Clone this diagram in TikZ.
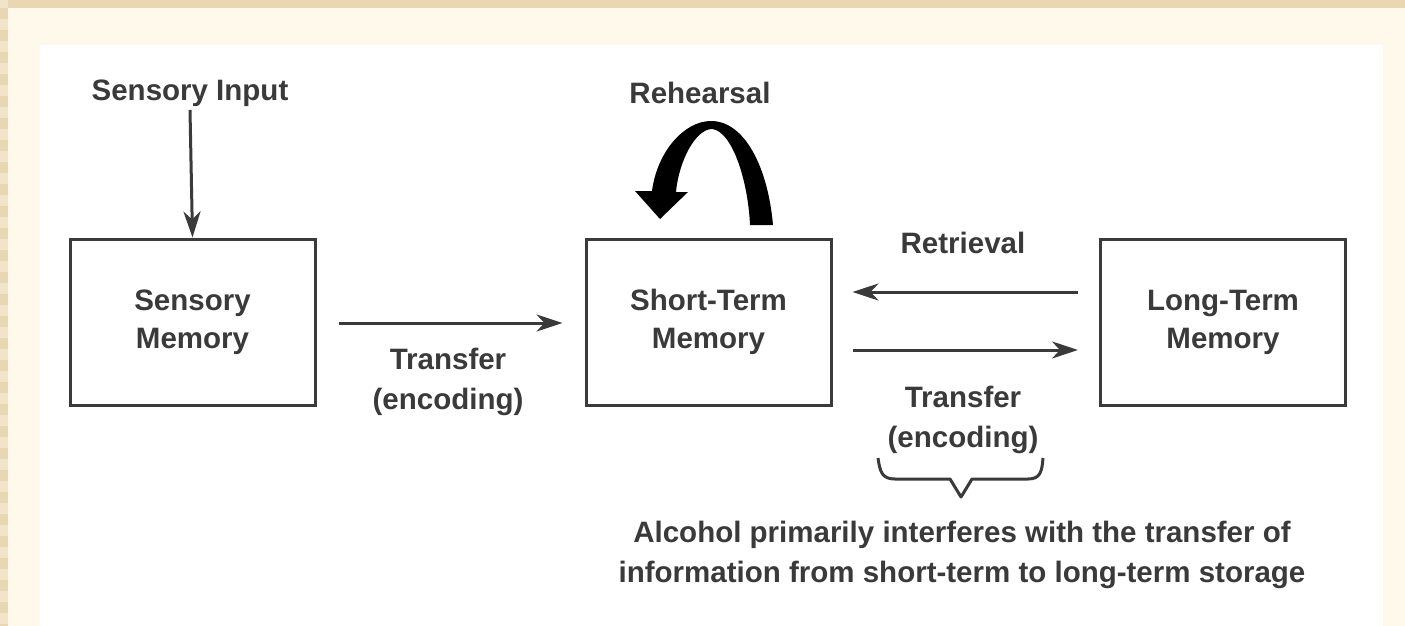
\documentclass[tikz,border=0pt]{standalone}
\usepackage{fontspec}
\setmainfont{Liberation Sans}
\usetikzlibrary{arrows.meta}
\definecolor{ink}{HTML}{3A3A3A}
\definecolor{cream}{HTML}{FFF9EC}
\definecolor{beige}{HTML}{E9D6B2}
\definecolor{beigeL}{HTML}{F2E4C8}
\tikzset{
  memorybox/.style={draw=ink, line width=3pt, minimum width=245pt, minimum height=166pt, align=center, text=ink, font=\fontsize{29.5}{38}\selectfont\bfseries},
  lbl/.style={align=center, text=ink, font=\fontsize{29.5}{40}\selectfont\bfseries, inner sep=0pt},
  conn/.style={draw=ink, line width=3pt, -{Stealth[length=26pt,width=17pt,inset=8pt]}}
}
\begin{document}
\begin{tikzpicture}[x=1pt,y=-1pt]
\useasboundingbox (0,0) rectangle (1405,626);
% background
\fill[cream] (0,0) rectangle (1405,626);
\fill[beige] (0,0) rectangle (1405,8);
\fill[beigeL] (0,0) rectangle (8,626);
\foreach \k in {0,...,28} {\fill[beige] (0,{8+\k*22}) rectangle (8,{8+\k*22+11});}
\fill[white] (40,45) rectangle (1383,626);
% boxes
\node[memorybox] (sm) at (192.5,322) {Sensory\\Memory};
\node[memorybox] (stm) at (708.5,322) {Short-Term\\Memory};
\node[memorybox] (ltm) at (1223,322) {Long-Term\\Memory};
% labels
\node[lbl] (si) at (190,93) {Sensory Input};
\node[lbl] (reh) at (700,93) {Rehearsal};
\node[lbl] (ret) at (963,243) {Retrieval};
\node[lbl] (t1) at (448,382) {Transfer\\(encoding)};
\node[lbl] (t2) at (963,420) {Transfer\\(encoding)};
\node[lbl] (alc) at (962,555) {Alcohol primarily interferes with the transfer of\\information from short-term to long-term storage};
% connectors
\draw[conn] (190,110) -- (sm.north);
\draw[conn] ([xshift=22pt,yshift=-1pt]sm.east) -- ([xshift=-22pt,yshift=-1pt]stm.west);
\draw[conn] ([xshift=-21pt,yshift=30pt]ltm.west) -- ([xshift=20pt,yshift=30pt]stm.east);
\draw[conn] ([xshift=20pt,yshift=-28pt]stm.east) -- ([xshift=-21pt,yshift=-28pt]ltm.west);
% rehearsal arrow
\fill[black] (773,225) .. controls (768,168) and (745,121) .. (711,121)
  .. controls (684,121) and (657,152) .. (652,191) -- (635,191) -- (660,219) -- (688,192) -- (676,192)
  .. controls (679,160) and (696,129) .. (712,129)
  .. controls (732,131) and (748,180) .. (750,225) -- cycle;
% brace
\draw[ink, line width=3pt, line join=round] (878,458) .. controls (880,472) and (882,479) .. (895,479) -- (950,479) -- (961,497) -- (972,479) -- (1028,479) .. controls (1040,479) and (1042,472) .. (1043,458);
\end{tikzpicture}
\end{document}
